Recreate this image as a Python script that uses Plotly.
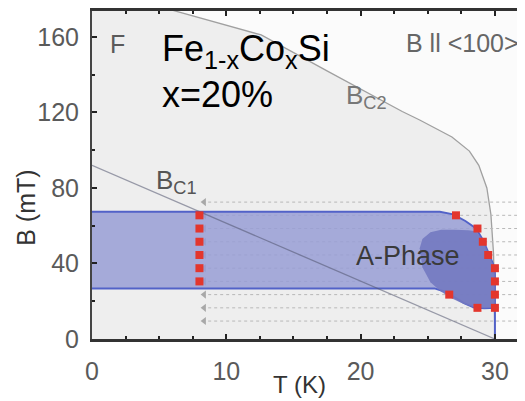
import plotly.graph_objects as go

# ---- data ----
bc2_T = [0, 6.3, 12.6, 17.6, 23.1, 24.4, 26.8, 28.1, 28.8, 29.4, 29.7, 29.9, 30.0]
bc2_B = [186, 173.7, 161, 141.6, 120.5, 116, 107, 99.5, 92, 80, 66, 45, 0]

bc1_T = [0, 30]
bc1_B = [92, 0]

band_T = [0, 25.9, 26.9, 27.8, 28.6, 29.1, 29.5, 29.85, 30.0, 30.0, 29.2, 28.4, 27.7, 27.0, 26.3, 25.5, 0]
band_B = [67.4, 67.4, 66.0, 62.5, 58.5, 52.5, 46.0, 40.0, 35.0, 16.5, 16.3, 16.8, 19.0, 22.0, 25.0, 26.8, 26.8]

aphase_T = [24.4, 24.6, 25.2, 26.0, 27.0, 28.0, 28.6, 29.1, 29.5, 29.85, 30.0, 30.0, 29.2, 28.4, 27.6, 26.8, 26.0, 25.2, 24.6, 24.4]
aphase_B = [48, 53, 56.5, 57.8, 57.8, 57.6, 57.0, 52.5, 46.0, 40.0, 35.0, 16.5, 16.3, 16.8, 18.8, 21.5, 25.0, 30.0, 38.0, 48]

scan_B = [72.5, 65.5, 58.5, 51.5, 44.5, 37.5, 30.5, 23.5, 16.5, 9.5]
scan_T0 = 8.35

left_T = [8.0] * 6
left_B = [65.5, 58.5, 51.5, 44.5, 37.5, 30.5]
right_T = [27.1, 28.7, 29.1, 29.5, 30.0, 30.0, 30.0, 30.0, 28.7, 26.6]
right_B = [65.5, 58.5, 51.5, 44.5, 37.5, 30.5, 23.5, 16.5, 16.5, 23.5]

x_ticks = [0, 10, 20, 30]
y_ticks = [0, 40, 80, 120, 160]

XMAX = 32.24
YMAX = 173.7

# page-pixel layout of the plot area (page body has an 8px margin)
PX0, PX1, PY0, PY1 = 92, 525, 9, 339


def px(xp):
    return (xp - PX0) / (PX1 - PX0)


def py(yp):
    return (PY1 - yp) / (PY1 - PY0)


fig = go.Figure()

fig.add_trace(go.Scatter(x=bc2_T, y=bc2_B, mode="lines", fill="tozeroy",
                         fillcolor="#eeeeee", line=dict(color="#a0a0a0", width=1.3),
                         hoverinfo="skip", showlegend=False))

for b in scan_B:
    fig.add_trace(go.Scatter(x=[scan_T0 + 0.3, XMAX], y=[b, b], mode="lines",
                             line=dict(color="#b8b8b8", width=1, dash="dot"),
                             hoverinfo="skip", showlegend=False))
fig.add_trace(go.Scatter(x=[scan_T0] * len(scan_B), y=scan_B, mode="markers",
                         marker=dict(symbol="triangle-left", size=7, color="#a8a8a8"),
                         hoverinfo="skip", showlegend=False))

fig.add_trace(go.Scatter(x=band_T, y=band_B, mode="lines", fill="toself",
                         fillcolor="rgba(152,158,213,0.85)",
                         line=dict(color="#5262c8", width=2),
                         hoverinfo="skip", showlegend=False))

fig.add_trace(go.Scatter(x=aphase_T, y=aphase_B, mode="lines", fill="toself",
                         fillcolor="rgba(115,121,192,0.9)",
                         line=dict(color="rgba(115,121,192,0)", width=0),
                         hoverinfo="skip", showlegend=False))

fig.add_trace(go.Scatter(x=bc1_T, y=bc1_B, mode="lines",
                         line=dict(color="rgba(80,84,110,0.55)", width=1.3),
                         hoverinfo="skip", showlegend=False))

fig.add_trace(go.Scatter(x=[30.0, 30.0], y=[0, 16.5], mode="lines",
                         line=dict(color="#5262c8", width=2),
                         hoverinfo="skip", showlegend=False))

fig.add_trace(go.Scatter(x=left_T + right_T, y=left_B + right_B, mode="markers",
                         marker=dict(symbol="square", size=8, color="#e3362d"),
                         hoverinfo="skip", showlegend=False))

FONT = "Liberation Sans"
gray = "#5a5a5a"
ann = [
    dict(x=px(117), y=py(42), xanchor="center", text="F", font=dict(size=25, color=gray)),
    dict(x=px(160), y=py(49), xanchor="left",
         text="Fe<sub>1-x</sub>Co<sub>x</sub>Si", font=dict(size=36, color="#000000")),
    dict(x=px(160), y=py(93), xanchor="left", text="x=20%",
         font=dict(size=36, color="#000000")),
    dict(x=px(521), y=py(41), xanchor="right", text="B ll &lt;100&gt;",
         font=dict(size=25, color="#666666")),
    dict(x=px(344), y=py(95), xanchor="left", text="B<sub>C2</sub>",
         font=dict(size=26, color="#777777")),
    dict(x=px(154), y=py(181), xanchor="left", text="B<sub>C1</sub>",
         font=dict(size=26, color="#555555")),
    dict(x=px(408), y=py(255), xanchor="center", text="A-Phase",
         font=dict(size=27, color="#3a3a3a")),
    dict(x=px(299), y=py(385), xanchor="center", text="T (K)",
         font=dict(size=24, color="#333333")),
    dict(x=px(26), y=py(207), xanchor="center", text="B (mT)", textangle=-90,
         font=dict(size=25, color="#333333")),
]
for a in ann:
    a.update(xref="paper", yref="paper", yanchor="middle", showarrow=False)
    a["font"]["family"] = FONT
    fig.add_annotation(**a)

fig.update_layout(
    width=517, height=393,
    margin=dict(l=84, r=0, t=1, b=62),
    paper_bgcolor="white", plot_bgcolor="#fbfbfb",
    font=dict(family=FONT, color=gray),
    xaxis=dict(range=[0, XMAX], tickvals=x_ticks, ticktext=[str(v) for v in x_ticks],
               ticks="inside", ticklen=5, tickwidth=2, tickcolor="#222",
               minor=dict(dtick=2.5, ticks="inside", ticklen=3, tickcolor="#222"),
               showgrid=False, zeroline=False, showline=True, linecolor="#333",
               linewidth=3, mirror="allticks", tickfont=dict(size=25, color=gray),
               ticklabelstandoff=8),
    yaxis=dict(range=[0, YMAX], tickvals=y_ticks, ticktext=[str(v) for v in y_ticks],
               ticks="inside", ticklen=5, tickwidth=2, tickcolor="#222",
               minor=dict(dtick=20, ticks="inside", ticklen=3, tickcolor="#222"),
               showgrid=False, zeroline=False, showline=True, linecolor="#444",
               linewidth=2, tickfont=dict(size=25, color=gray),
               ticklabelstandoff=6),
)

fig.write_html("out.html")
